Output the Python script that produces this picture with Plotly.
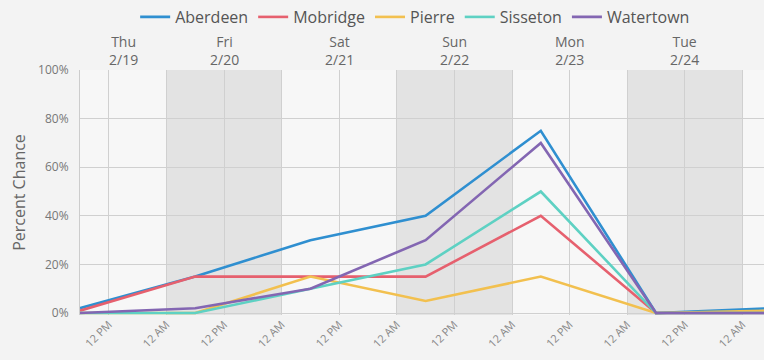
import plotly.graph_objects as go
import pandas as pd

# Forecast issue points (6 AM each day)
times = ["2026-02-19 06:00", "2026-02-20 06:00", "2026-02-21 06:00", "2026-02-22 06:00",
         "2026-02-23 06:00", "2026-02-24 06:00", "2026-02-25 06:00"]

aberdeen = [2, 15, 30, 40, 75, 0, 2]
mobridge = [1, 15, 15, 15, 40, 0, 0]
pierre = [0, 0, 15, 5, 15, 0, 1]
sisseton = [0, 0, 10, 20, 50, 0, 0]
watertown = [0, 2, 10, 30, 70, 0, 0]

series = [
    ("Aberdeen", aberdeen, "#2f8fd0"),
    ("Mobridge", mobridge, "#e6606e"),
    ("Pierre", pierre, "#f2c04f"),
    ("Sisseton", sisseton, "#5ed1c3"),
    ("Watertown", watertown, "#8366b2"),
]

day_names = ["Thu", "Fri", "Sat", "Sun", "Mon", "Tue"]
day_dates = ["2/19", "2/20", "2/21", "2/22", "2/23", "2/24"]
day_starts = ["2026-02-19", "2026-02-20", "2026-02-21", "2026-02-22", "2026-02-23", "2026-02-24"]
shaded_days = ["2026-02-20", "2026-02-22", "2026-02-24"]

x_start = pd.Timestamp("2026-02-19 06:00")
x_end = pd.Timestamp("2026-02-25 04:30")

tick_times = pd.date_range("2026-02-19 12:00", "2026-02-25 00:00", freq="12h")
tick_text = ["12 PM" if t.hour == 12 else "12 AM" for t in tick_times]

fig = go.Figure()

for name, vals, color in series:
    fig.add_trace(go.Scatter(
        x=times, y=vals, name=name, mode="lines",
        line=dict(color=color, width=2.6),
    ))

shapes = []
for d in shaded_days:
    s = pd.Timestamp(d)
    shapes.append(dict(
        type="rect", xref="x", yref="paper",
        x0=s, x1=s + pd.Timedelta(days=1), y0=0, y1=1,
        fillcolor="#e3e3e3", line=dict(width=0), layer="below",
    ))

# Day headers centred over the visible part of each day
annotations = []
for name, date, start in zip(day_names, day_dates, day_starts):
    s = pd.Timestamp(start)
    lo = max(s, x_start)
    hi = min(s + pd.Timedelta(days=1), x_end)
    mid = lo + (hi - lo) / 2
    annotations.append(dict(
        x=mid, y=1, xref="x", yref="paper", yanchor="bottom",
        text=f"{name}<br>{date}",
        showarrow=False, yshift=-1,
        font=dict(family="Open Sans", size=14, color="#666666"),
    ))

fig.update_layout(
    width=764, height=360,
    margin=dict(l=80, r=0, t=70, b=45),
    paper_bgcolor="#f3f3f3",
    plot_bgcolor="#f7f7f7",
    font=dict(family="Open Sans", color="#666666"),
    shapes=shapes,
    annotations=annotations,
    legend=dict(
        orientation="h", x=0.49, xanchor="center", y=1.0, yref="container",
        yanchor="top",
        font=dict(family="Open Sans", size=16, color="#555555"),
        itemwidth=30, tracegroupgap=0,
    ),
    showlegend=True,
)

fig.update_xaxes(
    type="date", range=[x_start, x_end],
    tickvals=list(tick_times), ticktext=tick_text,
    tickangle=-45, tickfont=dict(family="Open Sans", size=11, color="#888888"),
    showgrid=True, gridcolor="#d0d0d0", gridwidth=1,
    zeroline=False, showline=False, ticks="",
)

fig.update_yaxes(
    range=[-0.8, 100], tickvals=[0, 20, 40, 60, 80, 100],
    ticktext=["0%", "20%", "40%", "60%", "80%", "100%"],
    tickfont=dict(family="Open Sans", size=12, color="#777777"),
    ticklabelstandoff=8,
    showgrid=True, gridcolor="#d0d0d0", gridwidth=1,
    zeroline=False, showline=True, linecolor="#cccccc", linewidth=1,
    ticks="", ticklen=0,
    title=dict(text="Percent Chance", font=dict(family="Open Sans", size=16, color="#666666"), standoff=8),
)

fig.write_html("out.html")
